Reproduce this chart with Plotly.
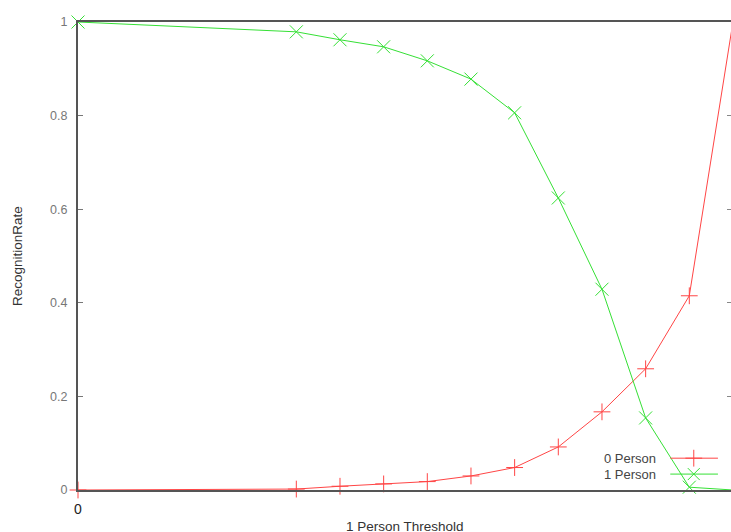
import plotly.graph_objects as go

# threshold values (x) and recognition rates
threshold = [0, 5/15, 6/15, 7/15, 8/15, 9/15, 10/15, 11/15, 12/15, 13/15, 14/15, 1.0]
zero_person = [0.0, 0.002, 0.008, 0.013, 0.018, 0.030, 0.048, 0.092, 0.167, 0.259, 0.415, 1.0]
one_person = [1.0, 0.979, 0.962, 0.947, 0.917, 0.878, 0.806, 0.624, 0.429, 0.154, 0.006, 0.0]

y_ticks = [0, 0.2, 0.4, 0.6, 0.8, 1]
y_tick_text = ["0", "0.2", "0.4", "0.6", "0.8", "1"]

red = "#ff4545"
green = "#35e035"
font = "Liberation Sans"

fig = go.Figure()

fig.add_trace(go.Scatter(
    x=threshold, y=zero_person, mode="lines+markers", name="0 Person",
    line=dict(color=red, width=1),
    marker=dict(symbol="cross-thin-open", size=12, color=red, line=dict(color=red, width=1)),
    cliponaxis=False, showlegend=False,
))
fig.add_trace(go.Scatter(
    x=threshold, y=one_person, mode="lines+markers", name="1 Person",
    line=dict(color=green, width=1),
    marker=dict(symbol="x-thin-open", size=13, color=green, line=dict(color=green, width=1)),
    cliponaxis=False, showlegend=False,
))

# gnuplot-style key: text on the left, sample line on the right
legend_rows = [("0 Person", red, "cross-thin-open", 0.068), ("1 Person", green, "x-thin-open", 0.034)]
for label, col, sym, ky in legend_rows:
    fig.add_trace(go.Scatter(
        x=[0.907, 0.98], y=[ky, ky], xaxis="x2", yaxis="y2", mode="lines",
        line=dict(color=col, width=1), showlegend=False, hoverinfo="skip",
    ))
    fig.add_trace(go.Scatter(
        x=[0.943], y=[ky], xaxis="x2", yaxis="y2", mode="markers",
        marker=dict(symbol=sym, size=12, color=col, line=dict(color=col, width=1)),
        showlegend=False, hoverinfo="skip", cliponaxis=False,
    ))
    fig.add_annotation(text=label, xref="paper", yref="paper", x=0.888, y=ky,
                       xanchor="right", yanchor="middle", showarrow=False,
                       font=dict(family=font, size=13, color="#444"))

# empty trace so the right-hand tick axis gets drawn
fig.add_trace(go.Scatter(x=[], y=[], yaxis="y3", showlegend=False, hoverinfo="skip"))

fig.add_annotation(text="RecognitionRate", xref="paper", yref="paper",
                   x=-61 / 653, y=0.5, textangle=-90, showarrow=False,
                   xanchor="center", yanchor="middle",
                   font=dict(family=font, size=13.5, color="#333"))
fig.add_annotation(text="1 Person Threshold", xref="paper", yref="paper",
                   x=0.5, y=-36 / 468, showarrow=False,
                   xanchor="center", yanchor="middle",
                   font=dict(family=font, size=13.5, color="#333"))
fig.add_annotation(text="1", xref="x", yref="paper", x=1.0, y=-21 / 468,
                   showarrow=False, xanchor="center", yanchor="middle",
                   font=dict(family=font, size=14, color="#222"))

fig.update_layout(
    width=731, height=532,
    margin=dict(l=78, r=0, t=22, b=42),
    plot_bgcolor="white", paper_bgcolor="white",
    xaxis=dict(range=[0, 0.997], showgrid=False, zeroline=False,
               showline=True, linecolor="#555", linewidth=2, mirror=True,
               tickvals=[0], ticktext=["0"], ticks="", ticklabelstandoff=5,
               tickfont=dict(family=font, size=14, color="#222")),
    yaxis=dict(range=[0, 1], showgrid=False, zeroline=False,
               showline=True, linecolor="#555", linewidth=2, mirror=False,
               tickvals=y_ticks, ticktext=y_tick_text,
               ticks="inside", ticklen=5, tickcolor="#777", tickwidth=1,
               ticklabelstandoff=6,
               tickfont=dict(family=font, size=12.5, color="#777")),
    yaxis3=dict(overlaying="y", side="right", anchor="x", range=[0, 1],
                showgrid=False, zeroline=False, showline=False,
                tickvals=y_ticks, showticklabels=False,
                ticks="inside", ticklen=4, tickcolor="#888", tickwidth=1),
    xaxis2=dict(overlaying="x", range=[0, 1], visible=False),
    yaxis2=dict(overlaying="y", range=[0, 1], visible=False),
)

# drop the browser's default body margin so the 731x532 figure fills the window
fig.write_html("out.html", config={"displayModeBar": False},
               post_script="document.body.style.margin='0';document.body.style.overflow='hidden';")
